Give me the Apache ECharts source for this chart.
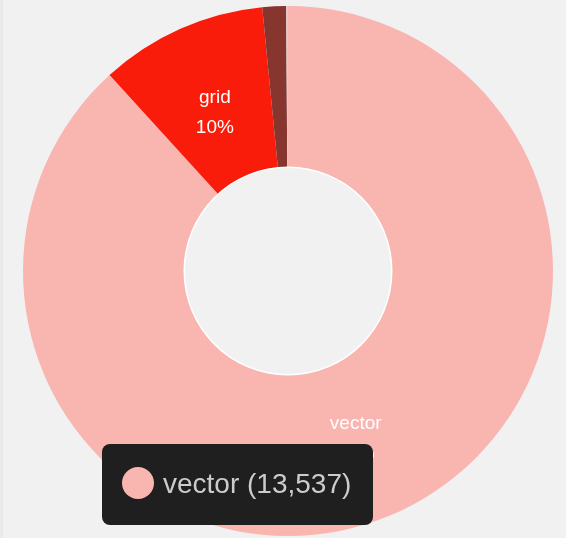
<!DOCTYPE html>
<html>
<head>
<meta charset="utf-8">
<script src="https://cdn.jsdelivr.net/npm/echarts@6/dist/echarts.min.js"></script>
<style>
  html, body { margin: 0; padding: 0; background: #f1f1f1; }
  #chart { width: 566px; height: 538px; box-sizing: border-box; border-left: 3px solid #e9e9e9; }
</style>
</head>
<body>
<div id="chart"></div>
<script>
// slice data (clockwise from 12 o'clock)
const names = ['vector', 'grid', 'raster', 'other'];
const values = [13537, 1566, 221, 17];
const colors = ['#f9b6b1', '#fa1c0a', '#86352f', '#e3c9c6'];
const showLabel = [true, true, false, false];
const labelShift = [[0, -7], [3, 13], [0, 0], [0, 0]];

const hovered = 0; // slice shown in the tooltip box

let myChart = echarts.init(document.getElementById('chart'));

let pieData = names.map((n, i) => ({
    name: n,
    value: values[i],
    itemStyle: { color: colors[i] },
    label: { show: showLabel[i], offset: labelShift[i] }
}));

let tipText = names[hovered] + ' (' + values[hovered].toLocaleString('en-US') + ')';

let option = {
    backgroundColor: '#f1f1f1',
    animation: false,
    series: [
        {
            type: 'pie',
            center: [285, 271],
            radius: [104, 265],
            startAngle: 90,
            clockwise: true,
            percentPrecision: 0,
            avoidLabelOverlap: false,
            emphasis: { disabled: true },
            itemStyle: { borderWidth: 0 },
            label: {
                position: 'inside',
                formatter: '{b}\n{d}%',
                color: '#ffffff',
                fontFamily: 'Liberation Sans',
                fontSize: 19,
                lineHeight: 30
            },
            labelLine: { show: false },
            data: pieData
        },
        {
            // thin white rim around the hole
            type: 'pie',
            silent: true,
            center: [285, 271],
            radius: [103, 104.5],
            label: { show: false },
            itemStyle: { color: '#ffffff' },
            data: [1]
        }
    ],
    graphic: [
        {
            type: 'rect',
            z: 100,
            shape: { x: 99, y: 444, width: 271, height: 81, r: 8 },
            style: { fill: '#1f1f1f' }
        },
        {
            type: 'circle',
            z: 101,
            shape: { cx: 135, cy: 483, r: 16 },
            style: { fill: colors[hovered] }
        },
        {
            type: 'text',
            z: 101,
            x: 160,
            y: 485,
            style: {
                text: tipText,
                fill: '#cccccc',
                fontFamily: 'Liberation Sans',
                fontSize: 28,
                verticalAlign: 'middle'
            }
        }
    ]
};

myChart.setOption(option);
</script>
</body>
</html>
